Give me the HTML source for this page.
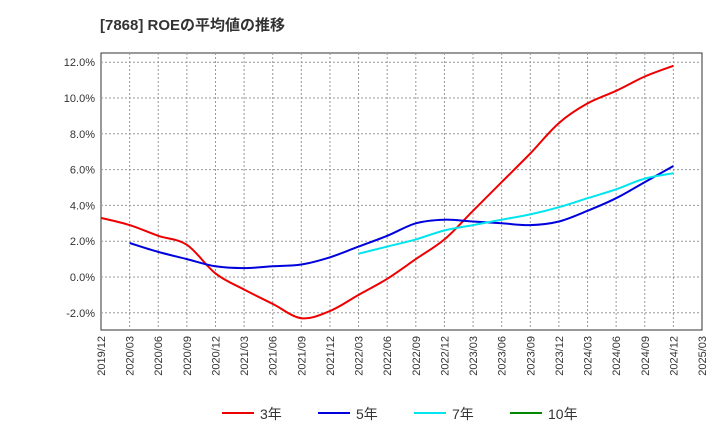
<!DOCTYPE html>
<html><head><meta charset="utf-8">
<style>
body{margin:0;background:#fff;font-family:"Liberation Sans","Noto Sans CJK JP",sans-serif;}
svg text{font-family:"Liberation Sans","Noto Sans CJK JP",sans-serif;}
</style></head>
<body>
<svg id="chart" width="720" height="440" xmlns="http://www.w3.org/2000/svg">
<text x="100" y="30" font-size="15" font-weight="bold" fill="#333">[7868]  ROEの平均値の推移</text>
<rect x="101" y="53" width="601" height="277" fill="#fff" stroke="#333"/>
<g id="grid"></g><g id="series"></g><g id="axes"></g><g id="legend"></g>
</svg>
<script>
const categories=["2019/12","2020/03","2020/06","2020/09","2020/12","2021/03","2021/06","2021/09","2021/12","2022/03","2022/06","2022/09","2022/12","2023/03","2023/06","2023/09","2023/12","2024/03","2024/06","2024/09","2024/12","2025/03"];
const yTicks=[-2,0,2,4,6,8,10,12];
const roe3=[3.3,2.9,2.3,1.8,0.2,-0.7,-1.5,-2.3,-1.9,-1.0,-0.1,1.0,2.1,3.7,5.3,6.9,8.6,9.7,10.4,11.2,11.8];
const roe5=[null,1.9,1.4,1.0,0.6,0.5,0.6,0.7,1.1,1.7,2.3,3.0,3.2,3.1,3.0,2.9,3.1,3.7,4.4,5.3,6.2];
const roe7=[null,null,null,null,null,null,null,null,null,1.3,1.7,2.1,2.6,2.9,3.2,3.5,3.9,4.4,4.9,5.5,5.8];
const roe10=[];
const NS="http://www.w3.org/2000/svg";
const X0=101,X1=702,Y0=277,PER=17.9;
const xs=i=>X0+i*(X1-X0)/(categories.length-1);
const ys=v=>Y0-v*PER;
function mk(t,a,p){const e=document.createElementNS(NS,t);for(const k in a)e.setAttribute(k,a[k]);p.appendChild(e);return e;}
const grid=document.getElementById('grid'),axes=document.getElementById('axes'),ser=document.getElementById('series'),leg=document.getElementById('legend');
yTicks.forEach(v=>{
 const l=mk('line',{x1:X0,x2:X1,y1:ys(v),y2:ys(v),stroke:'#999','stroke-dasharray':'2,2'},grid);
 
 
 const t=mk('text',{x:X0-6,y:ys(v)+4,'font-size':11,'text-anchor':'end',fill:'#333'},axes);
 t.textContent=v.toFixed(1)+'%';
 
 
});
categories.forEach((c,i)=>{
 if(i>0&&i<categories.length-1){const l=mk('line',{x1:xs(i),x2:xs(i),y1:53,y2:330,stroke:'#999','stroke-dasharray':'2,2'},grid);
 
 }
 const t=mk('text',{x:0,y:0,'font-size':11,'text-anchor':'end',fill:'#333',transform:`translate(${xs(i)+4},336) rotate(-90)`},axes);
 t.textContent=c;
 
 
});
function line(data,color,name){
 const pts=[];data.forEach((v,i)=>{if(v!=null)pts.push([xs(i),ys(v)]);});
 if(pts.length<2)return;
 let d='M'+pts[0][0].toFixed(1)+','+pts[0][1].toFixed(1);
 for(let i=0;i<pts.length-1;i++){
  const p0=pts[i-1]||pts[i],p1=pts[i],p2=pts[i+1],p3=pts[i+2]||p2,k=1/6;
  const c1=[p1[0]+(p2[0]-p0[0])*k,p1[1]+(p2[1]-p0[1])*k];
  const c2=[p2[0]-(p3[0]-p1[0])*k,p2[1]-(p3[1]-p1[1])*k];
  d+='C'+c1.map(n=>n.toFixed(1)).join(',')+' '+c2.map(n=>n.toFixed(1)).join(',')+' '+p2.map(n=>n.toFixed(1)).join(',');
 }
 const p=mk('path',{d:d,fill:'none',stroke:color,'stroke-width':2,'stroke-linejoin':'round'},ser);
 
 
}
line(roe3,'#e00','line-3yr');line(roe5,'#0000dd','line-5yr');line(roe7,'#00e5ee','line-7yr');line(roe10,'#080','line-10yr');
[['3年','#e00',222],['5年','#0000dd',318],['7年','#00e5ee',414],['10年','#080',510]].forEach(([n,c,x])=>{
 const g=mk('g',{},leg);
 
 
 mk('line',{x1:x,x2:x+32,y1:413,y2:413,stroke:c,'stroke-width':2},g);
 const t=mk('text',{x:x+38,y:419,'font-size':14,fill:'#333'},g);t.textContent=n;
});
</script>
</body></html>
